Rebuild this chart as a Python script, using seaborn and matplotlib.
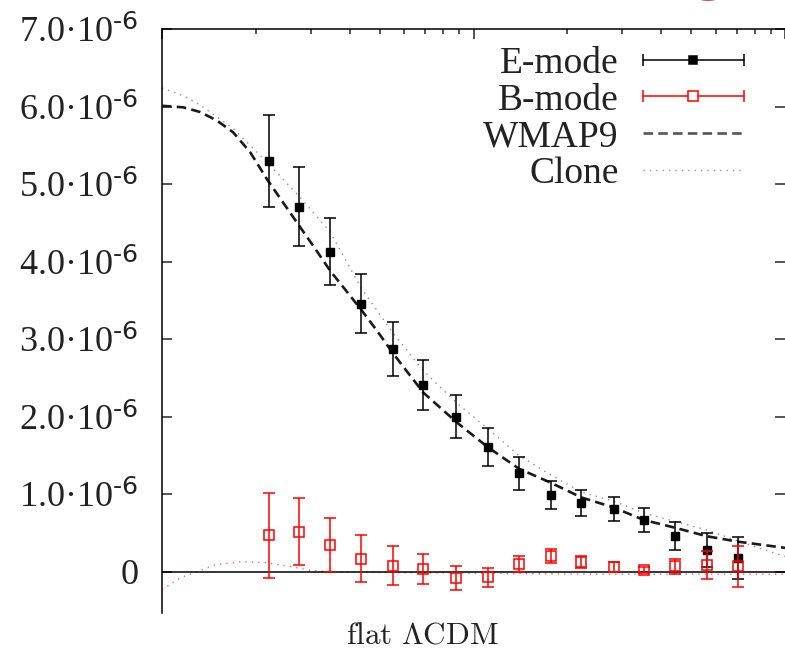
import numpy as np
import pandas as pd
import matplotlib
matplotlib.use("Agg")
import matplotlib.pyplot as plt
import seaborn as sns
from matplotlib.lines import Line2D
from matplotlib.legend_handler import HandlerBase
from matplotlib.patches import Ellipse
from matplotlib.ticker import FixedLocator, FuncFormatter, LogLocator, NullFormatter

# ---------------- data (y values in units of 1e-6) ----------------
bin_centers = [22, 27.6, 34.7, 43.6, 55, 69, 88, 111, 140, 177, 222, 282, 352, 443, 561, 706]
e_mode = [5.30, 4.71, 4.13, 3.46, 2.87, 2.41, 2.00, 1.61, 1.27, 0.99, 0.89, 0.81, 0.67, 0.46, 0.28, 0.18]
e_err = [0.59, 0.51, 0.43, 0.38, 0.35, 0.32, 0.28, 0.24, 0.21, 0.18, 0.17, 0.16, 0.16, 0.18, 0.22, 0.27]
b_mode = [0.47, 0.52, 0.35, 0.17, 0.08, 0.04, -0.08, -0.07, 0.10, 0.20, 0.13, 0.06, 0.02, 0.07, 0.09, 0.07]
b_err = [0.55, 0.43, 0.35, 0.30, 0.25, 0.19, 0.15, 0.12, 0.10, 0.09, 0.08, 0.065, 0.04, 0.10, 0.18, 0.27]

wmap_x = [10.0, 11.7, 13.25, 15.0, 16.9, 19.2, 21.75, 24.5, 27.6, 31.0, 34.7, 39.1, 43.6, 49.2,
          54.9, 61.8, 69.1, 88.2, 111, 140, 177, 222, 282, 352, 443, 561, 706, 1000]
wmap_y = [6.01, 5.99, 5.93, 5.82, 5.67, 5.41, 5.06, 4.76, 4.46, 4.17, 3.88, 3.62, 3.38, 3.10,
          2.83, 2.56, 2.31, 1.93, 1.61, 1.33, 1.15, 0.96, 0.83, 0.67, 0.57, 0.46, 0.39, 0.31]

clone_x = [10.0, 11.7, 13.25, 16.9, 21.75, 27.6, 34.7, 43.6, 54.9, 69.1, 88.2, 111, 140, 177,
           222, 282, 352, 443, 561, 706, 837, 1000]
clone_y = [6.24, 6.14, 6.02, 5.72, 5.28, 4.84, 4.38, 3.66, 3.09, 2.59, 2.18, 1.85, 1.50, 1.25,
           1.03, 0.91, 0.76, 0.65, 0.54, 0.40, 0.30, 0.20]

clone_b_x = [10.0, 11.4, 12.9, 14.8, 17.8, 21.4, 25.8, 29.9, 34.7, 58, 122, 255, 1000]
clone_b_y = [-0.23, -0.08, 0.0, 0.09, 0.13, 0.12, 0.07, 0.02, 0.0, -0.01, -0.02, -0.03, -0.03]

y_ticks = [0, 1, 2, 3, 4, 5, 6, 7]
legend_labels = ["E-mode", "B-mode", "WMAP9", "Clone"]
bottom_label = r"$\mathrm{flat\ \Lambda CDM}$"

# ---------------- style ----------------
sns.set_style("ticks")
plt.rcParams["font.family"] = ["Liberation Serif", "DejaVu Serif"]
plt.rcParams["mathtext.default"] = "regular"

W, H = 785, 654
fig = plt.figure(figsize=(W / 100, H / 100), dpi=100)
ax = fig.add_axes([162 / W, 1 - 613 / H, (785 - 162) / W, (613 - 29) / H])

curves = pd.DataFrame({"x": wmap_x, "y": wmap_y})
clone = pd.DataFrame({"x": clone_x, "y": clone_y})
clone_b = pd.DataFrame({"x": clone_b_x, "y": clone_b_y})

sns.lineplot(data=clone, x="x", y="y", ax=ax, color="#8f8f8f", lw=1.0, zorder=2)
ax.lines[-1].set_dashes((1, 3.6))
sns.lineplot(data=clone_b, x="x", y="y", ax=ax, color="#ff6a6a", lw=1.0, zorder=2)
ax.lines[-1].set_dashes((1, 3.6))
sns.lineplot(data=curves, x="x", y="y", ax=ax, color="#1a1a1a", lw=1.9, zorder=3)
ax.lines[-1].set_dashes((3.6, 2.0))

ax.axhline(0, color="black", lw=1.1, zorder=3)

ax.errorbar(bin_centers, e_mode, yerr=e_err, fmt="s", color="black", ms=6.3,
            elinewidth=1.1, capsize=4.3, capthick=1.1, zorder=5)
ax.errorbar(bin_centers, b_mode, yerr=b_err, fmt="s", color="red", mfc="none",
            mec="red", ms=7, mew=1.1, elinewidth=1.1, capsize=4.3, capthick=1.1, zorder=6)

ax.set_xscale("log")
ax.set_xlim(10, 1000)
ax.set_ylim(-0.53, 7.0)
ax.set_xlabel("")
ax.set_ylabel("")

# spines & ticks
for s in ["left", "top"]:
    ax.spines[s].set_linewidth(1.1)
    ax.spines[s].set_color("black")
ax.spines["bottom"].set_visible(False)
ax.spines["right"].set_visible(False)

ax.xaxis.set_ticks_position("top")
ax.xaxis.set_major_locator(LogLocator(base=10))
ax.xaxis.set_minor_locator(LogLocator(base=10, subs=np.arange(2, 10)))
ax.xaxis.set_major_formatter(NullFormatter())
ax.xaxis.set_minor_formatter(NullFormatter())
ax.tick_params(axis="x", which="major", direction="in", length=7, width=1.1, top=True, bottom=False)
ax.tick_params(axis="x", which="minor", direction="in", length=3.5, width=1.1, top=True, bottom=False)

ax.yaxis.set_major_locator(FixedLocator(y_ticks))


def yfmt(v, pos):
    if abs(v) < 1e-9:
        return "0"
    return f"{v:.1f}·10$^{{\\text{{-6}}}}$"


ax.yaxis.set_major_formatter(FuncFormatter(yfmt))
ax.tick_params(axis="y", which="major", direction="in", length=7, width=1.1,
               left=True, right=True, labelsize=26, pad=17, labelcolor="#222222")
ax.tick_params(axis="y", which="minor", left=False, right=False)


# legend with gnuplot-style horizontal error bar keys
class BarKey:
    def __init__(self, color, filled):
        self.color = color
        self.filled = filled


class BarKeyHandler(HandlerBase):
    def create_artists(self, legend, orig_handle, xdescent, ydescent, width, height, fontsize, trans):
        y = height / 2 - ydescent
        x0, x1 = -xdescent, width - xdescent
        c = orig_handle.color
        line = Line2D([x0, x1], [y, y], color=c, lw=1.1, transform=trans)
        caps = Line2D([x0, x1], [y, y], color=c, lw=0, marker="|", ms=8, mew=1.1, transform=trans)
        mk = Line2D([(x0 + x1) / 2], [y], color=c, lw=0, marker="s",
                    ms=6.3 if orig_handle.filled else 7,
                    mfc=c if orig_handle.filled else "white", mec=c, mew=1.1, transform=trans)
        return [line, caps, mk]


h_e = BarKey("black", True)
h_b = BarKey("red", False)
h_w = Line2D([], [], color="#555555", lw=1.9, dashes=(3.6, 2.0))
h_c = Line2D([], [], color="#9a9a9a", lw=1.0, dashes=(1, 3.6))

leg = ax.legend([h_e, h_b, h_w, h_c], legend_labels,
                handler_map={BarKey: BarKeyHandler()},
                loc="upper right", bbox_to_anchor=((755 - 162) / 623, 1 - 6 / 584),
                borderaxespad=0, borderpad=0.3, frameon=False, markerfirst=False,
                fontsize=27, handlelength=2.7, handletextpad=0.64, labelspacing=0.06)
for t in leg.get_texts():
    t.set_color("#222222")

fig.text(422 / W, 1 - 636 / H, bottom_label, fontsize=22.5, ha="center", va="center",
         color="#222222", math_fontfamily="cm")

# cropped red mark at the top edge of the source image
fig.patches.append(Ellipse((708 / W, 1 + 12 / H), 40 / W, 26 / H, transform=fig.transFigure,
                           facecolor="#c0504d", edgecolor="none"))

fig.savefig("out.png", dpi=100)
